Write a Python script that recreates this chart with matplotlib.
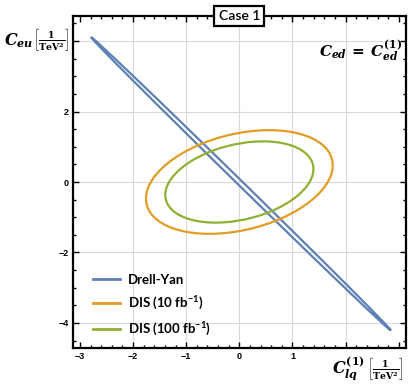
import matplotlib
matplotlib.use("Agg")
import matplotlib.pyplot as plt
from matplotlib.patches import Ellipse
from matplotlib.lines import Line2D
import numpy as np

plt.rcParams['mathtext.fontset'] = 'custom'
plt.rcParams['mathtext.rm'] = 'DejaVu Serif:bold'
plt.rcParams['mathtext.it'] = 'DejaVu Serif:bold:italic'
plt.rcParams['mathtext.bf'] = 'DejaVu Serif:bold'
plt.rcParams['mathtext.sf'] = 'Lato:bold'

# ---- data (ellipse contours) ----
series = ["Drell-Yan", "DIS (10 fb$^{\\mathsf{-1}}$)", "DIS (100 fb$^{\\mathsf{-1}}$)"]
colors = ["#5E81B5", "#E19C24", "#8FB032"]
center_x = [0.03, 0.0, 0.0]
center_y = [-0.05, 0.0, 0.0]
semi_major = [5.026, 1.890, 1.494]
semi_minor = [0.054, 1.295, 1.020]
angle_deg = [-55.87, 30.4, 29.5]

x_ticks = [-3, -2, -1, 0, 1, 2, 3]
x_ticklabels = ["\u22123", "\u22122", "\u22121", "0", "1", "", ""]
y_ticks = [-4, -2, 0, 2, 4]
y_ticklabels = ["\u22124", "\u22122", "0", "2", ""]
x_grid = [-2, -1, 0, 1, 2]
y_grid = [-4, -2, 0, 2, 4]
xlim = (-3.13, 3.13)
ylim = (-4.71, 4.71)

fig = plt.figure(figsize=(4.15, 3.87), dpi=100)
ax = fig.add_axes([73/415, 1-348/387, (405.7-73)/415, (348-16)/387])
ax.set_xlim(*xlim)
ax.set_ylim(*ylim)

for gx in x_grid:
    ax.axvline(gx, color="#d9d9d9", lw=0.8, zorder=0)
for gy in y_grid:
    ax.axhline(gy, color="#d9d9d9", lw=0.8, zorder=0)

for i in range(len(series)):
    e = Ellipse((center_x[i], center_y[i]), 2*semi_major[i], 2*semi_minor[i],
                angle=angle_deg[i], fill=False, edgecolor=colors[i], lw=1.6, zorder=3)
    ax.add_patch(e)

ax.set_xticks(x_ticks)
ax.set_xticklabels(x_ticklabels)
ax.set_yticks(y_ticks)
ax.set_yticklabels(y_ticklabels)
ax.set_xticks(np.arange(-3.0, 3.01, 0.2), minor=True)
ax.set_yticks(np.arange(-4.5, 4.51, 0.5), minor=True)
ax.tick_params(which='both', direction='in', top=True, right=True, width=1.0, color='black')
ax.tick_params(which='major', length=4, labelsize=6.5, pad=3)
ax.tick_params(which='minor', length=2)
for lab in ax.get_xticklabels() + ax.get_yticklabels():
    lab.set_fontweight('bold')
    lab.set_family('Liberation Sans')
for s in ax.spines.values():
    s.set_linewidth(1.6)

# axis labels (symbol + unit bracket)
unit = r"$\left[\frac{1}{\mathrm{TeV}^{2}}\right]$"
fig.text(4/415, 1-41/387, r"$C_{eu}$", ha='left', va='center', fontsize=11.5)
fig.text(70/415, 1-40/387, unit, ha='right', va='center', fontsize=9.5)
fig.text(332/415, 1-368/387, r"$C^{(1)}_{lq}$", ha='left', va='center', fontsize=11.5)
fig.text(404/415, 1-368/387, unit, ha='right', va='center', fontsize=9.5)
ax.text(0.99, 0.895, r"$C_{ed}\, =\, C^{(1)}_{ed}$", transform=ax.transAxes,
        ha='right', va='center', fontsize=11)

# title box
ax.text(0.5, 1.0, "Case 1", transform=ax.transAxes, ha='center', va='center',
        fontsize=10, family='Lato', fontweight='semibold', zorder=10,
        bbox=dict(boxstyle='square,pad=0.3', fc='white', ec='black', lw=1.6))

handles = [Line2D([0], [0], color=c, lw=2) for c in colors]
leg = ax.legend(handles, series, loc='upper left', bbox_to_anchor=(0.043, 0.2386),
                frameon=False, prop={'family': 'Lato', 'weight': 'bold', 'size': 9.5},
                handlelength=2.05, handletextpad=0.6, labelspacing=0.65,
                borderaxespad=0.0)

fig.savefig("out.png", dpi=100)
